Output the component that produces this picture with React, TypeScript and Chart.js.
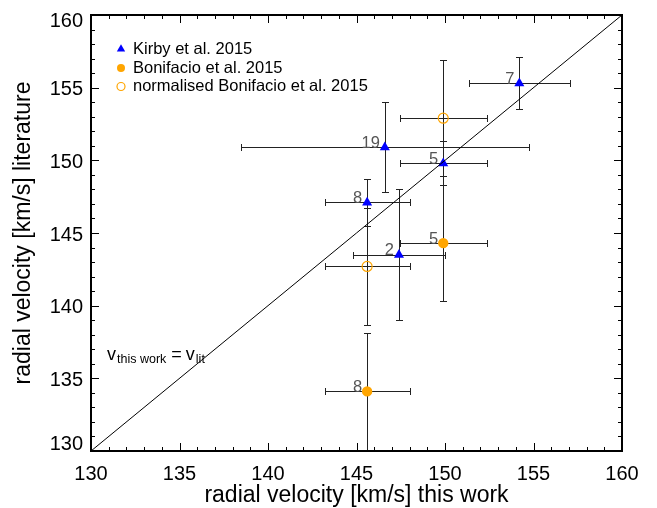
import React, { useEffect, useRef } from 'react';
import { Chart, registerables } from 'chart.js';

Chart.register(...registerables);

// ---- data ----
const X_MIN = 130;
const X_MAX = 160;
const Y_MIN = 130;
const Y_MAX = 160;
const MAJOR_STEP = 5;
const MINOR_STEP = 1;
const tickLabels = ['130', '135', '140', '145', '150', '155', '160'];

const kirbyX = [154.2, 146.6, 149.9, 145.6, 147.4];
const kirbyY = [155.3, 150.9, 149.8, 147.1, 143.5];
const kirbyXErr = [2.85, 8.15, 2.45, 2.4, 2.6];
const kirbyYErr = [1.8, 3.1, 1.5, 1.6, 4.5];
const kirbyN = ['7', '19', '5', '8', '2'];

const bonX = [149.9, 145.6];
const bonY = [144.3, 134.1];
const bonXErr = [2.45, 2.4];
const bonYErr = [4.0, 4.0];
const bonN = ['5', '8'];

const normX = [149.9, 145.6];
const normY = [152.9, 142.7];
const normXErr = [2.45, 2.4];
const normYErr = [4.0, 4.0];

const legendLabels = ['Kirby et al. 2015', 'Bonifacio et al. 2015', 'normalised Bonifacio et al. 2015'];
const xTitle = 'radial velocity [km/s] this work';
const yTitle = 'radial velocity [km/s] literature';

const BLUE = '#0000ff';
const ORANGE = '#ffa500';
const FONT = '"Liberation Sans", Arial, Helvetica, sans-serif';

const toPts = (xs: number[], ys: number[]) => xs.map((v, i) => ({ x: v, y: ys[i] }));

const overlay = {
  id: 'overlay',
  beforeDatasetsDraw(chart: any) {
    const { ctx, chartArea: a, scales } = chart;
    const xs = scales.x;
    const ys = scales.y;
    ctx.save();
    ctx.beginPath();
    ctx.rect(a.left, a.top, a.right - a.left, a.bottom - a.top);
    ctx.clip();
    ctx.strokeStyle = '#222';
    ctx.lineWidth = 1;
    const cap = 3.5;
    const snap = (v: number) => Math.round(v) + 0.5;
    const drawErr = (X: number[], Y: number[], XE: number[], YE: number[]) => {
      X.forEach((xv, i) => {
        const px = snap(xs.getPixelForValue(xv));
        const py = snap(ys.getPixelForValue(Y[i]));
        const x1 = snap(xs.getPixelForValue(xv - XE[i]));
        const x2 = snap(xs.getPixelForValue(xv + XE[i]));
        const y1 = snap(ys.getPixelForValue(Y[i] + YE[i]));
        const y2 = snap(ys.getPixelForValue(Y[i] - YE[i]));
        ctx.beginPath();
        ctx.moveTo(x1, py); ctx.lineTo(x2, py);
        ctx.moveTo(x1, py - cap); ctx.lineTo(x1, py + cap);
        ctx.moveTo(x2, py - cap); ctx.lineTo(x2, py + cap);
        ctx.moveTo(px, y1); ctx.lineTo(px, y2);
        ctx.moveTo(px - cap, y1); ctx.lineTo(px + cap, y1);
        ctx.moveTo(px - cap, y2); ctx.lineTo(px + cap, y2);
        ctx.stroke();
      });
    };
    drawErr(normX, normY, normXErr, normYErr);
    drawErr(bonX, bonY, bonXErr, bonYErr);
    drawErr(kirbyX, kirbyY, kirbyXErr, kirbyYErr);
    ctx.restore();
  },
  afterDraw(chart: any) {
    const { ctx, chartArea: a, scales } = chart;
    const xs = scales.x;
    const ys = scales.y;
    ctx.save();

    // point labels
    ctx.fillStyle = '#555';
    ctx.font = `16.5px ${FONT}`;
    ctx.textAlign = 'right';
    ctx.textBaseline = 'alphabetic';
    const lab = (X: number[], Y: number[], N: string[]) => {
      X.forEach((xv, i) => {
        ctx.fillText(N[i], xs.getPixelForValue(xv) - 5, ys.getPixelForValue(Y[i]) + 0.5);
      });
    };
    lab(kirbyX, kirbyY, kirbyN);
    lab(bonX, bonY, bonN);

    // frame
    ctx.strokeStyle = '#000';
    ctx.lineWidth = 2;
    ctx.strokeRect(a.left, a.top, a.right - a.left, a.bottom - a.top);

    // ticks (inward, all four sides)
    ctx.lineWidth = 1;
    ctx.beginPath();
    for (let v = X_MIN; v <= X_MAX + 1e-9; v += MINOR_STEP) {
      const major = Math.abs(v / MAJOR_STEP - Math.round(v / MAJOR_STEP)) < 1e-6;
      const len = major ? 8 : 4;
      const px = Math.round(xs.getPixelForValue(v)) + 0.5;
      ctx.moveTo(px, a.bottom); ctx.lineTo(px, a.bottom - len);
      ctx.moveTo(px, a.top); ctx.lineTo(px, a.top + len);
    }
    for (let v = Y_MIN; v <= Y_MAX + 1e-9; v += MINOR_STEP) {
      const major = Math.abs(v / MAJOR_STEP - Math.round(v / MAJOR_STEP)) < 1e-6;
      const len = major ? 8 : 4;
      const py = Math.round(ys.getPixelForValue(v)) + 0.5;
      ctx.moveTo(a.left, py); ctx.lineTo(a.left + len, py);
      ctx.moveTo(a.right, py); ctx.lineTo(a.right - len, py);
    }
    ctx.stroke();

    // tick labels
    ctx.fillStyle = '#000';
    ctx.font = `20px ${FONT}`;
    tickLabels.forEach((t) => {
      const v = parseFloat(t);
      ctx.textAlign = 'center';
      ctx.textBaseline = 'alphabetic';
      ctx.fillText(t, xs.getPixelForValue(v), 480);
      ctx.textAlign = 'right';
      ctx.textBaseline = 'middle';
      let py = ys.getPixelForValue(v) + 2;
      py = Math.max(a.top + 6, Math.min(a.bottom - 7, py));
      ctx.fillText(t, 83, py);
    });

    // axis titles
    ctx.font = `23px ${FONT}`;
    ctx.textAlign = 'center';
    ctx.textBaseline = 'alphabetic';
    ctx.fillText(xTitle, (a.left + a.right) / 2, 502);
    ctx.save();
    ctx.translate(30, (a.top + a.bottom) / 2);
    ctx.rotate(-Math.PI / 2);
    ctx.fillText(yTitle, 0, 0);
    ctx.restore();

    // legend
    const lx = 121;
    const rows = [49, 68, 86.5];
    ctx.font = `16.5px ${FONT}`;
    ctx.textAlign = 'left';
    ctx.textBaseline = 'alphabetic';
    ctx.fillStyle = BLUE;
    const r = 4.8;
    ctx.beginPath();
    ctx.moveTo(lx, rows[0] - r);
    ctx.lineTo(lx + r * 0.866, rows[0] + r / 2);
    ctx.lineTo(lx - r * 0.866, rows[0] + r / 2);
    ctx.closePath();
    ctx.fill();
    ctx.fillStyle = ORANGE;
    ctx.beginPath();
    ctx.arc(lx, rows[1], 4, 0, Math.PI * 2);
    ctx.fill();
    ctx.strokeStyle = ORANGE;
    ctx.lineWidth = 1.2;
    ctx.beginPath();
    ctx.arc(lx, rows[2], 4, 0, Math.PI * 2);
    ctx.stroke();
    ctx.fillStyle = '#000';
    legendLabels.forEach((t, i) => ctx.fillText(t, 133, rows[i] + 4.5));

    // annotation v_this work = v_lit
    let tx = 107;
    const base = 360;
    ctx.font = `18px ${FONT}`;
    ctx.fillText('v', tx, base);
    tx += ctx.measureText('v').width + 1;
    ctx.font = `12.5px ${FONT}`;
    ctx.fillText('this work', tx, base + 3);
    tx += ctx.measureText('this work').width + 5;
    ctx.font = `18px ${FONT}`;
    ctx.fillText('=', tx, base);
    tx += ctx.measureText('=').width + 4;
    ctx.fillText('v', tx, base);
    tx += ctx.measureText('v').width + 1;
    ctx.font = `12.5px ${FONT}`;
    ctx.fillText('lit', tx, base + 3);

    ctx.restore();
  },
};

export default function App() {
  const ref = useRef<HTMLCanvasElement | null>(null);
  useEffect(() => {
    if (!ref.current) return;
    const chart = new Chart(ref.current, {
      type: 'scatter',
      data: {
        datasets: [
          {
            type: 'line',
            label: 'one-to-one',
            data: [{ x: X_MIN, y: Y_MIN }, { x: X_MAX, y: Y_MAX }],
            borderColor: '#000',
            borderWidth: 1,
            pointRadius: 0,
            fill: false,
            order: 0,
          } as any,
          {
            label: legendLabels[2],
            data: toPts(normX, normY),
            pointStyle: 'circle',
            pointRadius: 5,
            backgroundColor: 'rgba(0,0,0,0)',
            borderColor: ORANGE,
            borderWidth: 1.2,
            order: 3,
          },
          {
            label: legendLabels[1],
            data: toPts(bonX, bonY),
            pointStyle: 'circle',
            pointRadius: 5.2,
            backgroundColor: ORANGE,
            borderColor: ORANGE,
            borderWidth: 0,
            order: 2,
          },
          {
            label: legendLabels[0],
            data: toPts(kirbyX, kirbyY),
            pointStyle: 'triangle',
            pointRadius: 5.8,
            backgroundColor: BLUE,
            borderColor: BLUE,
            borderWidth: 0,
            order: 1,
          },
        ],
      },
      options: {
        responsive: false,
        animation: false,
        events: [],
        layout: { padding: { left: 91, top: 15, right: 35, bottom: 57 } },
        plugins: { legend: { display: false }, tooltip: { enabled: false }, title: { display: false } },
        scales: {
          x: { type: 'linear', min: X_MIN, max: X_MAX, display: false },
          y: { type: 'linear', min: Y_MIN, max: Y_MAX, display: false },
        },
      },
      plugins: [overlay],
    });
    return () => chart.destroy();
  }, []);
  return (
    <div style={{ position: 'absolute', left: 0, top: 0, width: 657, height: 508, background: '#fff' }}>
      <canvas ref={ref} width={657} height={508} style={{ display: 'block' }} />
    </div>
  );
}
